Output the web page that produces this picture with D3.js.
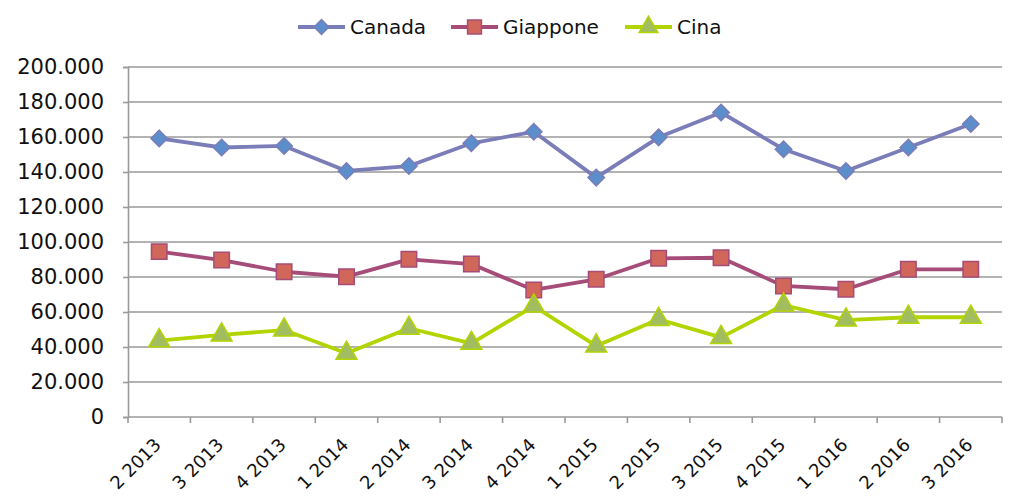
<!DOCTYPE html>
<html>
<head>
<meta charset="utf-8">
<script src="https://cdn.jsdelivr.net/npm/d3@7"></script>
<style>
  body { margin: 0; background: #fff; }
  text { font-family: "DejaVu Sans", Verdana, sans-serif; fill: #111; }
</style>
</head>
<body>
<svg id="chart" width="1009" height="499"></svg>
<script>
// quarters on the x axis
const categories = ['2 2013', '3 2013', '4 2013', '1 2014', '2 2014', '3 2014', '4 2014',
  '1 2015', '2 2015', '3 2015', '4 2015', '1 2016', '2 2016', '3 2016'];

// values
const canada = [159200, 154000, 154900, 140600, 143400, 156400, 163000,
  136800, 159800, 174000, 153000, 140600, 154000, 167400];
const giappone = [94500, 89700, 83000, 80200, 90100, 87400, 72600,
  78700, 90700, 91000, 74900, 73000, 84400, 84400];
const cina = [43600, 46900, 49700, 36400, 50700, 42100, 63400,
  40600, 55800, 45500, 64000, 55400, 57000, 57000];

const yTicks = [0, 20000, 40000, 60000, 80000, 100000, 120000, 140000, 160000, 180000, 200000];

// wide diamond (a square turned 45 degrees)
const wideDiamond = {
  draw(ctx, size) {
    const r = Math.sqrt(size / 2);
    ctx.moveTo(0, -r);
    ctx.lineTo(r, 0);
    ctx.lineTo(0, r);
    ctx.lineTo(-r, 0);
    ctx.closePath();
  }
};

const series = [
  { name: 'Canada', values: canada, line: '#7a7db8', fill: '#5b8ecb', stroke: '#7a7db8', symbol: wideDiamond, size: 135 },
  { name: 'Giappone', values: giappone, line: '#a64c78', fill: '#d1665a', stroke: '#a64c78', symbol: d3.symbolSquare, size: 240 },
  { name: 'Cina', values: cina, line: '#b2d400', fill: '#a2bd5f', stroke: '#b2d400', symbol: d3.symbolTriangle, size: 190 }
];

const margin = { top: 67, right: 7, bottom: 82, left: 128 };
const width = 1009, height = 499;
const svg = d3.select('#chart');

const x = d3.scaleBand()
  .domain(categories)
  .range([margin.left, width - margin.right]);

const y = d3.scaleLinear()
  .domain([0, 200000])
  .range([height - margin.bottom, margin.top]);

const it = d3.formatLocale({ decimal: ',', thousands: '.', grouping: [3], currency: ['€', ''] });
const fmt = it.format(',');

// gridlines
svg.append('g')
  .selectAll('line')
  .data(yTicks.filter(d => d > 0))
  .join('line')
  .attr('x1', margin.left)
  .attr('x2', width - margin.right)
  .attr('y1', d => y(d))
  .attr('y2', d => y(d))
  .attr('stroke', '#9a9a9a')
  .attr('stroke-width', 1.6);

// y axis
const yAxis = svg.append('g')
  .attr('transform', `translate(${margin.left},0)`)
  .call(d3.axisLeft(y).tickValues(yTicks).tickFormat(fmt).tickSize(5).tickPadding(19));
yAxis.select('.domain').attr('stroke', '#9a9a9a').attr('stroke-width', 1.6);
yAxis.selectAll('.tick line').attr('stroke', '#9a9a9a').attr('stroke-width', 1.6);
yAxis.selectAll('text')
  .attr('font-size', 21)
  .attr('font-family', '"DejaVu Sans", Verdana, sans-serif')
  .attr('fill', '#111');

// x axis
const xAxis = svg.append('g')
  .attr('transform', `translate(0,${height - margin.bottom})`);
xAxis.append('line')
  .attr('x1', margin.left)
  .attr('x2', width - margin.right)
  .attr('stroke', '#9a9a9a')
  .attr('stroke-width', 1.6);
xAxis.selectAll('.xtick')
  .data(categories.map(c => x(c)).concat([width - margin.right]))
  .join('line')
  .attr('class', 'xtick')
  .attr('x1', d => d).attr('x2', d => d)
  .attr('y1', 0).attr('y2', 6)
  .attr('stroke', '#9a9a9a')
  .attr('stroke-width', 1.6);
xAxis.selectAll('text')
  .data(categories)
  .join('text')
  .attr('text-anchor', 'end')
  .attr('font-size', 18)
  .attr('transform', d => `translate(${x(d) + x.bandwidth() / 2 + 3},${29}) rotate(-45)`)
  .text(d => d);

// lines and markers
const line = d3.line()
  .x((d, i) => x(categories[i]) + x.bandwidth() / 2)
  .y(d => y(d));

series.forEach(s => {
  svg.append('path')
    .datum(s.values)
    .attr('fill', 'none')
    .attr('stroke', s.line)
    .attr('stroke-width', 3.8)
    .attr('stroke-linejoin', 'round')
    .attr('d', line);

  svg.append('g')
    .selectAll('path')
    .data(s.values)
    .join('path')
    .attr('transform', (d, i) => `translate(${x(categories[i]) + x.bandwidth() / 2},${y(d)})`)
    .attr('d', d3.symbol().type(s.symbol).size(s.size))
    .attr('fill', s.fill)
    .attr('stroke', s.stroke)
    .attr('stroke-width', 1.5);
});

// legend
const legendX = [298, 451, 625];
const legend = svg.append('g');
series.forEach((s, i) => {
  const g = legend.append('g').attr('transform', `translate(${legendX[i]},27)`);
  g.append('line')
    .attr('x1', 0).attr('x2', 47)
    .attr('stroke', s.line)
    .attr('stroke-width', 3.8);
  g.append('path')
    .attr('transform', 'translate(23.5,0)')
    .attr('d', d3.symbol().type(s.symbol).size(s.size * 0.8))
    .attr('fill', s.fill)
    .attr('stroke', s.stroke)
    .attr('stroke-width', 1.5);
  g.append('text')
    .attr('x', 52)
    .attr('y', 7)
    .attr('font-size', 20)
    .text(s.name);
});
</script>
</body>
</html>
